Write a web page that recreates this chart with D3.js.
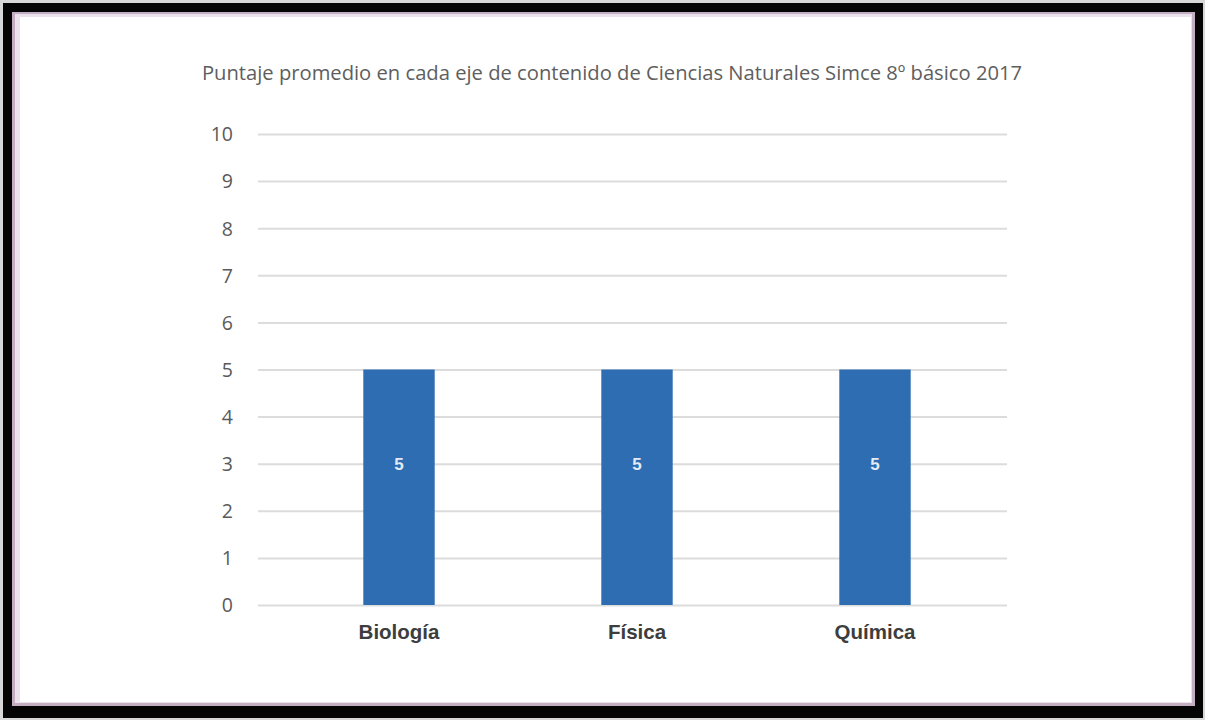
<!DOCTYPE html>
<html><head><meta charset="utf-8">
<script src="https://cdn.jsdelivr.net/npm/d3@7"></script>
<style>html,body{margin:0;padding:0;background:#fff;}svg{display:block;}</style>
</head><body>
<svg id="c" width="1205" height="720"></svg>
<script>
const title = "Puntaje promedio en cada eje de contenido de Ciencias Naturales Simce 8º básico 2017";
const categories = ["Biología", "Física", "Química"];
const values = [5, 5, 5];
const yTicks = [0,1,2,3,4,5,6,7,8,9,10];

const svg = d3.select("#c");
// frame
svg.append("rect").attr("x",0).attr("y",0).attr("width",1205).attr("height",720).attr("fill","#d8d8d8");
svg.append("rect").attr("x",3).attr("y",3).attr("width",1200).attr("height",715).attr("fill","#050505");
svg.append("rect").attr("x",12).attr("y",12).attr("width",1183).attr("height",694).attr("fill","#c4afc2");
svg.append("rect").attr("x",15).attr("y",14).attr("width",1177).attr("height",689).attr("fill","#ece2eb");
svg.append("rect").attr("x",20).attr("y",17).attr("width",1171).attr("height",685).attr("fill","#ffffff");

const y = d3.scaleLinear().domain([0,10]).range([605,134]);
const x = d3.scaleBand().domain(categories).range([280,994]).paddingInner(0.7).paddingOuter(0.35);

svg.append("text").attr("x",612).attr("y",80).attr("text-anchor","middle")
  .attr("font-family","Open Sans, sans-serif").attr("font-size",20.2).attr("fill","#5e5e5e").text(title);

// gridlines
const grid = svg.append("g").attr("transform","translate(258,0)")
  .call(d3.axisLeft(y).tickValues(yTicks).tickSize(-749).tickFormat(""));
grid.select(".domain").remove();
grid.selectAll("line").attr("stroke","#dcdcdc").attr("stroke-width",2);

// y labels
const yAx = svg.append("g").attr("transform","translate(233,0)")
  .call(d3.axisLeft(y).tickValues(yTicks).tickSize(0).tickPadding(0));
yAx.select(".domain").remove();
yAx.selectAll("text").attr("font-family","Open Sans, sans-serif").attr("font-size",19.5).attr("fill","#5a5a5a").attr("dy","0.35em");

// bars
svg.selectAll("rect.bar").data(values).join("rect").attr("class","bar")
  .attr("x",(d,i)=>x(categories[i])).attr("width",x.bandwidth())
  .attr("y",d=>y(d)).attr("height",d=>y(0)-y(d)).attr("fill","#2e6db2");

svg.selectAll("text.val").data(values).join("text").attr("class","val")
  .attr("x",(d,i)=>x(categories[i])+x.bandwidth()/2).attr("y",d=>y(d*0.6))
  .attr("text-anchor","middle").attr("dy","0.35em")
  .attr("font-family","Liberation Sans, Arial, sans-serif").attr("font-weight","bold")
  .attr("font-size",17).attr("fill","#e3ebf6").text(d=>d);

// x axis labels
const xAx = svg.append("g").attr("transform","translate(0,"+y(0)+")")
  .call(d3.axisBottom(x).tickSize(0).tickPadding(19));
xAx.select(".domain").remove();
xAx.selectAll("text").attr("font-family","Liberation Sans, Arial, sans-serif").attr("font-weight","bold")
  .attr("font-size",20.5).attr("fill","#3d3d3d");
</script>
</body></html>
